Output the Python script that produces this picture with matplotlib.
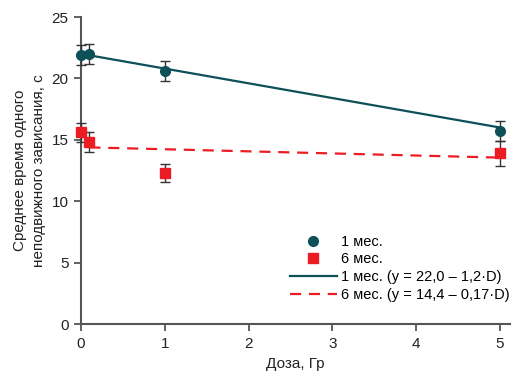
import matplotlib.pyplot as plt
import numpy as np

plt.rcParams['font.family'] = ['Liberation Sans', 'DejaVu Sans']

# data
dose = [0, 0.1, 1, 5]
m1_mean = [21.9, 22.0, 20.6, 15.7]
m1_err = [0.8, 0.8, 0.8, 0.8]
m6_mean = [15.6, 14.8, 12.3, 13.9]
m6_err = [0.8, 0.8, 0.75, 1.0]

fit_x = [0.1, 5]
fit1 = (22.0, -1.2)
fit6 = (14.4, -0.17)

teal = '#0e5058'
red = '#ec1c24'
axcol = '#555555'

fig = plt.figure(figsize=(5.22, 3.79), dpi=100)
ax = fig.add_axes([81/522, 55/379, 429/522, 307/379])

fx = np.array(fit_x)
ax.plot(fx, fit1[0] + fit1[1]*fx, color=teal, lw=1.6,
        label='1 мес. (y = 22,0 – 1,2·D)', zorder=2)
ax.plot(fx, fit6[0] + fit6[1]*fx, color=red, lw=1.6, ls=(0, (5, 3.5)),
        label='6 мес. (y = 14,4 – 0,17·D)', zorder=2)

ax.errorbar(dose, m1_mean, yerr=m1_err, fmt='none', ecolor='#333333',
            elinewidth=1, capsize=3.5, capthick=1, clip_on=False, zorder=3)
ax.errorbar(dose, m6_mean, yerr=m6_err, fmt='none', ecolor='#333333',
            elinewidth=1, capsize=3.5, capthick=1, clip_on=False, zorder=3)
ax.plot(dose, m1_mean, 'o', color=teal, ms=7, ls='none', label='1 мес.',
        clip_on=False, zorder=4)
ax.plot(dose, m6_mean, 's', color=red, ms=7.5, ls='none', label='6 мес.',
        clip_on=False, zorder=4)

ax.set_xlim(0, 5.12)
ax.set_ylim(0, 25)
ax.set_xticks([0, 1, 2, 3, 4, 5])
ax.set_yticks([0, 5, 10, 15, 20, 25])
for s in ['top', 'right']:
    ax.spines[s].set_visible(False)
for s in ['left', 'bottom']:
    ax.spines[s].set_color(axcol)
    ax.spines[s].set_linewidth(1.5)
ax.tick_params(direction='out', length=5, width=1.3, color=axcol,
               labelsize=11, labelcolor='#222222', pad=4)
ax.set_xlabel('Доза, Гр', fontsize=11, color='#222222', labelpad=5)
ax.set_ylabel('Среднее время одного\nнеподвижного зависания, с',
              fontsize=11, color='#222222', labelpad=4, linespacing=1.45)

h, l = ax.get_legend_handles_labels()
order = [2, 3, 0, 1]
ax.legend([h[i] for i in order], [l[i] for i in order], loc='lower right',
          bbox_to_anchor=(1.03, 0.03), frameon=False, fontsize=10.5,
          handlelength=3.2, handletextpad=0.3, labelspacing=0.25,
          numpoints=1)

fig.savefig('out.png', dpi=100)
